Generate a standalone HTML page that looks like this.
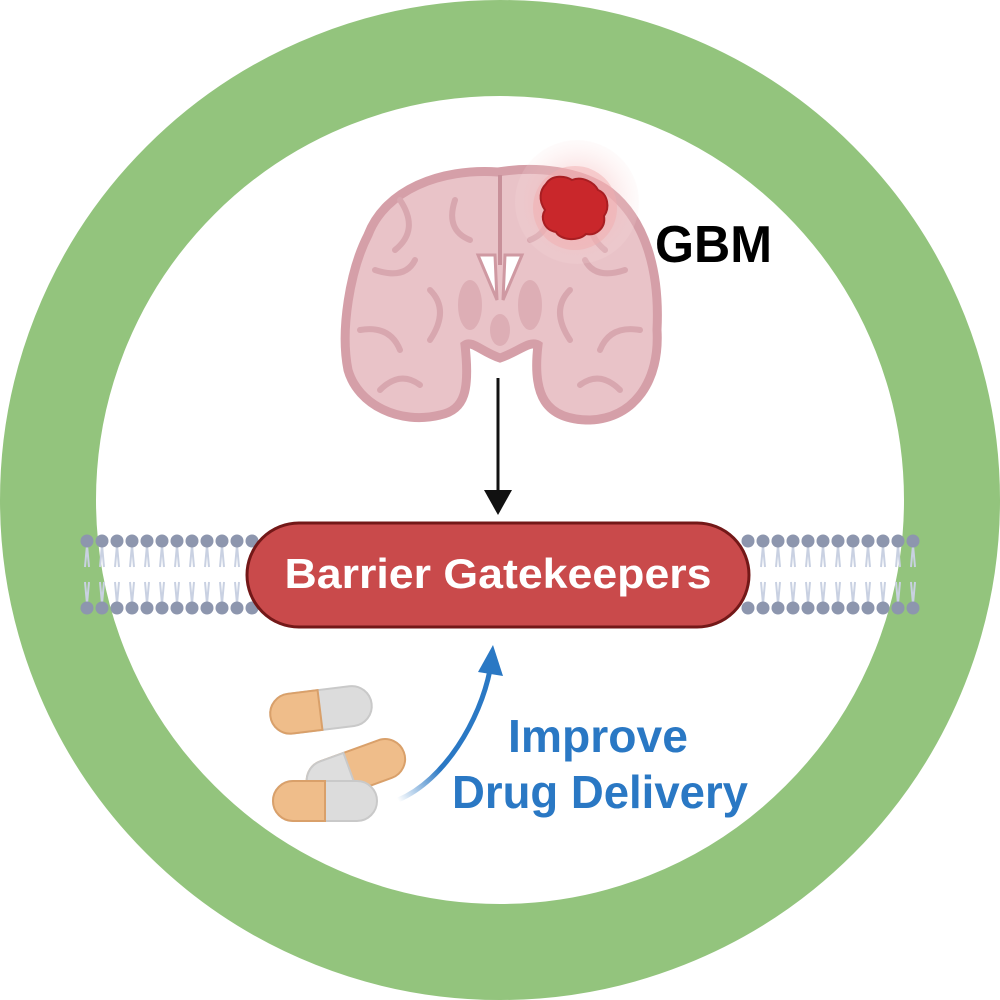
<!DOCTYPE html>
<html><head><meta charset="utf-8"><style>html,body{margin:0;padding:0;background:#fff}svg{display:block}</style></head>
<body>
<svg width="1000" height="1000" viewBox="0 0 1000 1000" xmlns="http://www.w3.org/2000/svg">
<defs>
<radialGradient id="glow" cx="0.5" cy="0.5" r="0.5">
<stop offset="0" stop-color="#f3a9ab" stop-opacity="0.8"/>
<stop offset="0.6" stop-color="#f6c2c3" stop-opacity="0.5"/>
<stop offset="1" stop-color="#fbe3e3" stop-opacity="0.2"/>
</radialGradient>
<linearGradient id="bl" x1="0" y1="1" x2="1" y2="0">
<stop offset="0" stop-color="#2a78c4" stop-opacity="0"/>
<stop offset="0.35" stop-color="#2a78c4"/>
<stop offset="1" stop-color="#2a78c4"/>
</linearGradient>
</defs>
<circle cx="500" cy="500" r="452" fill="none" stroke="#93c47d" stroke-width="96"/>
<g stroke="#c9d1e2" stroke-width="2" fill="none">
<path d="M87 545l-2 22M87 545l2 22M102 545l-2 22M102 545l2 22M117 545l-2 22M117 545l2 22M132 545l-2 22M132 545l2 22M147 545l-2 22M147 545l2 22M162 545l-2 22M162 545l2 22M177 545l-2 22M177 545l2 22M192 545l-2 22M192 545l2 22M207 545l-2 22M207 545l2 22M222 545l-2 22M222 545l2 22M237 545l-2 22M237 545l2 22
M87 604l-2 -22M87 604l2 -22M102 604l-2 -22M102 604l2 -22M117 604l-2 -22M117 604l2 -22M132 604l-2 -22M132 604l2 -22M147 604l-2 -22M147 604l2 -22M162 604l-2 -22M162 604l2 -22M177 604l-2 -22M177 604l2 -22M192 604l-2 -22M192 604l2 -22M207 604l-2 -22M207 604l2 -22M222 604l-2 -22M222 604l2 -22M237 604l-2 -22M237 604l2 -22
M763 545l-2 22M763 545l2 22M778 545l-2 22M778 545l2 22M793 545l-2 22M793 545l2 22M808 545l-2 22M808 545l2 22M823 545l-2 22M823 545l2 22M838 545l-2 22M838 545l2 22M853 545l-2 22M853 545l2 22M868 545l-2 22M868 545l2 22M883 545l-2 22M883 545l2 22M898 545l-2 22M898 545l2 22M913 545l-2 22M913 545l2 22
M763 604l-2 -22M763 604l2 -22M778 604l-2 -22M778 604l2 -22M793 604l-2 -22M793 604l2 -22M808 604l-2 -22M808 604l2 -22M823 604l-2 -22M823 604l2 -22M838 604l-2 -22M838 604l2 -22M853 604l-2 -22M853 604l2 -22M868 604l-2 -22M868 604l2 -22M883 604l-2 -22M883 604l2 -22M898 604l-2 -22M898 604l2 -22M913 604l-2 -22M913 604l2 -22"/>
</g>
<g fill="#8d96ae">
<circle cx="87" cy="541" r="6.5"/><circle cx="102" cy="541" r="6.5"/><circle cx="117" cy="541" r="6.5"/><circle cx="132" cy="541" r="6.5"/><circle cx="147" cy="541" r="6.5"/><circle cx="162" cy="541" r="6.5"/><circle cx="177" cy="541" r="6.5"/><circle cx="192" cy="541" r="6.5"/><circle cx="207" cy="541" r="6.5"/><circle cx="222" cy="541" r="6.5"/><circle cx="237" cy="541" r="6.5"/><circle cx="252" cy="541" r="6.5"/>
<circle cx="87" cy="608" r="6.5"/><circle cx="102" cy="608" r="6.5"/><circle cx="117" cy="608" r="6.5"/><circle cx="132" cy="608" r="6.5"/><circle cx="147" cy="608" r="6.5"/><circle cx="162" cy="608" r="6.5"/><circle cx="177" cy="608" r="6.5"/><circle cx="192" cy="608" r="6.5"/><circle cx="207" cy="608" r="6.5"/><circle cx="222" cy="608" r="6.5"/><circle cx="237" cy="608" r="6.5"/><circle cx="252" cy="608" r="6.5"/>
<circle cx="748" cy="541" r="6.5"/><circle cx="763" cy="541" r="6.5"/><circle cx="778" cy="541" r="6.5"/><circle cx="793" cy="541" r="6.5"/><circle cx="808" cy="541" r="6.5"/><circle cx="823" cy="541" r="6.5"/><circle cx="838" cy="541" r="6.5"/><circle cx="853" cy="541" r="6.5"/><circle cx="868" cy="541" r="6.5"/><circle cx="883" cy="541" r="6.5"/><circle cx="898" cy="541" r="6.5"/><circle cx="913" cy="541" r="6.5"/>
<circle cx="748" cy="608" r="6.5"/><circle cx="763" cy="608" r="6.5"/><circle cx="778" cy="608" r="6.5"/><circle cx="793" cy="608" r="6.5"/><circle cx="808" cy="608" r="6.5"/><circle cx="823" cy="608" r="6.5"/><circle cx="838" cy="608" r="6.5"/><circle cx="853" cy="608" r="6.5"/><circle cx="868" cy="608" r="6.5"/><circle cx="883" cy="608" r="6.5"/><circle cx="898" cy="608" r="6.5"/><circle cx="913" cy="608" r="6.5"/>
</g>
<rect x="247" y="523" width="502" height="104" rx="52" fill="#c94a4b" stroke="#731818" stroke-width="3"/>
<text x="498" y="588" font-family="Liberation Sans, sans-serif" font-weight="bold" font-size="42" fill="#fff" text-anchor="middle" textLength="427" lengthAdjust="spacingAndGlyphs">Barrier Gatekeepers</text>
<path d="M498 172 C440 168 385 190 368 235 C350 270 340 330 348 370 C358 405 400 425 440 415 C465 410 470 390 465 345 C472 340 482 352 500 358 C518 352 530 340 538 345 C532 395 545 420 590 420 C635 418 660 380 657 330 C660 270 645 220 610 192 C580 170 535 166 498 172 Z" fill="#e9c3c8" stroke="#d59fa8" stroke-width="9"/>
<path d="M500 175 L500 265" stroke="#c8909a" stroke-width="4"/>
<g fill="none" stroke="#d8a7af" stroke-width="6" stroke-linecap="round">
<path d="M400 200 q20 30 -5 50 M375 270 q30 10 40 -10 M360 330 q30 -5 40 20 M380 390 q20 -20 40 -5 M455 200 q-10 30 15 40 M430 290 q20 20 0 50"/>
<path d="M600 200 q-20 30 5 50 M625 270 q-30 10 -40 -10 M640 330 q-30 -5 -40 20 M620 390 q-20 -20 -40 -5 M545 200 q10 30 -15 40 M570 290 q-20 20 0 50"/>
</g>
<g fill="#ddaeb5">
<ellipse cx="470" cy="305" rx="12" ry="25"/><ellipse cx="530" cy="305" rx="12" ry="25"/><ellipse cx="500" cy="330" rx="10" ry="16"/>
</g>
<path d="M478 255 L495 255 L497 300 Z M522 255 L505 255 L503 300 Z" fill="#fff" stroke="#cf99a2" stroke-width="3"/>
<circle cx="577" cy="202" r="62" fill="url(#glow)" opacity="0.7"/>
<circle cx="575" cy="208" r="42" fill="#f2aeb0" opacity="0.5"/>
<path d="M546 184 C552 174 566 176 572 180 C582 176 594 182 598 190 C608 194 610 208 604 216 C606 228 596 236 586 234 C578 242 560 240 556 232 C544 230 540 218 545 210 C538 200 540 190 546 184 Z" fill="#c9272b" stroke="#a81e22" stroke-width="2"/>
<text x="655" y="262" font-family="Liberation Sans, sans-serif" font-weight="bold" font-size="52" fill="#000" textLength="117" lengthAdjust="spacingAndGlyphs">GBM</text>
<line x1="498" y1="378" x2="498" y2="495" stroke="#111" stroke-width="3"/>
<path d="M484 490 L498 515 L512 490 Z" fill="#111"/>
<g transform="rotate(-7 320 710)">
<rect x="270" y="690" width="102" height="40" rx="20" fill="#dcdcdc" stroke="#c9c9c9" stroke-width="2"/>
<path d="M320 690 L290 690 A20 20 0 0 0 290 730 L320 730 Z" fill="#efbd8a" stroke="#d9a06a" stroke-width="2"/>
</g>
<g transform="rotate(-20 355 770)">
<rect x="305" y="750" width="102" height="40" rx="20" fill="#efbd8a" stroke="#d9a06a" stroke-width="2"/>
<path d="M350 750 L325 750 A20 20 0 0 0 325 790 L350 790 Z" fill="#dedede" stroke="#c9c9c9" stroke-width="2"/>
</g>
<rect x="273" y="781" width="104" height="40" rx="20" fill="#dcdcdc" stroke="#c9c9c9" stroke-width="2"/>
<path d="M325 781 L293 781 A20 20 0 0 0 293 821 L325 821 Z" fill="#efbd8a" stroke="#d9a06a" stroke-width="2"/>
<path d="M398 800 C445 780 480 720 490 670" fill="none" stroke="url(#bl)" stroke-width="5"/>
<path d="M478 672 L493 645 L503 676 Z" fill="#2a78c4"/>
<g font-family="Liberation Sans, sans-serif" font-weight="bold" font-size="46" fill="#2a78c4">
<text x="508" y="752" textLength="180" lengthAdjust="spacingAndGlyphs">Improve</text>
<text x="452" y="808" textLength="296" lengthAdjust="spacingAndGlyphs">Drug Delivery</text>
</g>
</svg>
</body></html>
